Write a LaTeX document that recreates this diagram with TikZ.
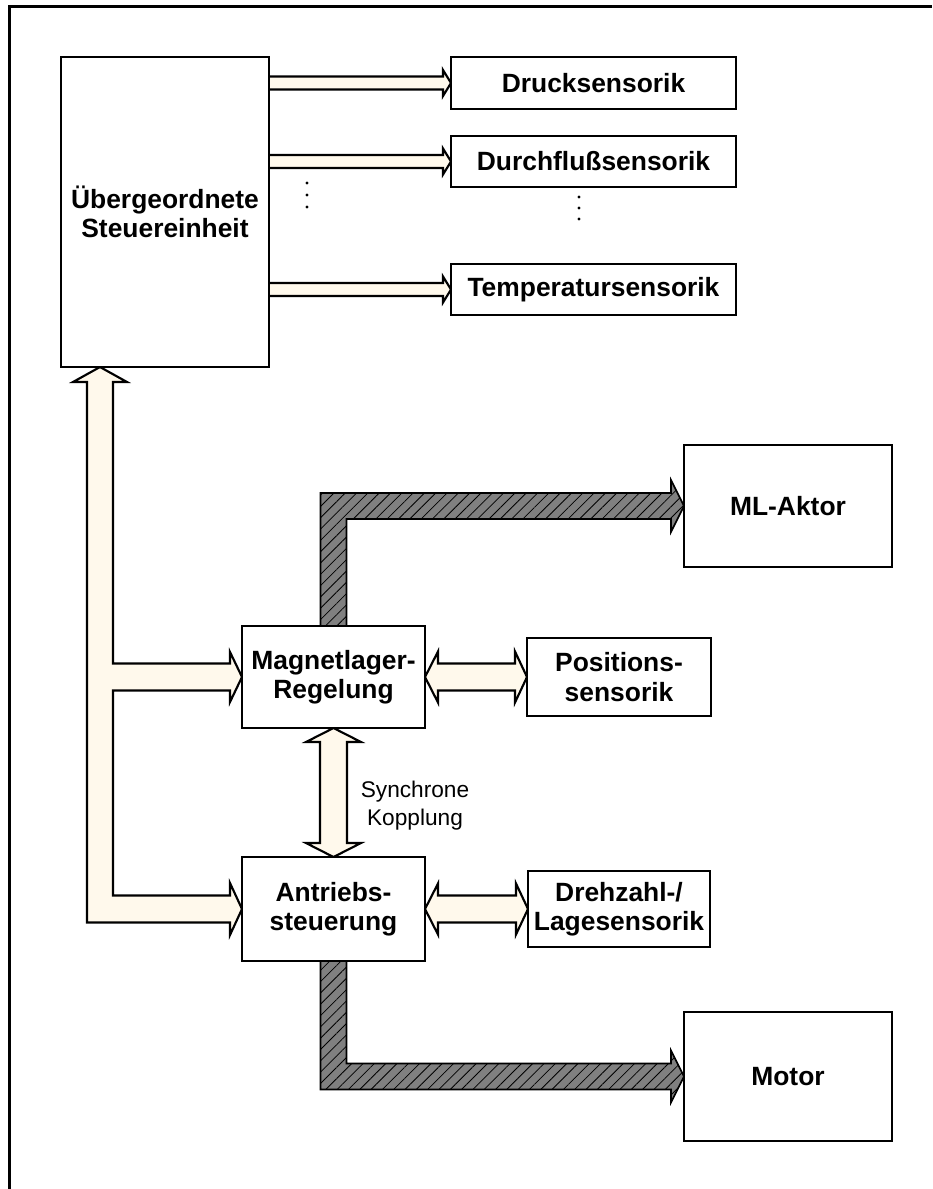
\documentclass[tikz,border=0pt]{standalone}
\usepackage{fontspec}
\setmainfont{Liberation Sans}
\usetikzlibrary{calc,patterns.meta}
\definecolor{cream}{RGB}{255,249,236}
\definecolor{hatchgray}{RGB}{128,128,128}
\pgfdeclarelayer{background}
\pgfsetlayers{background,main}
\newcommand\thinarrow[2]{%
  \draw[carrow] ($(#1.east|-#2.west)+(0,-6.5)$) -- ($(#2.west)+(-8,-6.5)$) -- ($(#2.west)+(-8,-13)$) -- (#2.west)
   -- ($(#2.west)+(-8,13)$) -- ($(#2.west)+(-8,6.5)$) -- ($(#1.east|-#2.west)+(0,6.5)$);}
\newcommand\dblharrow[2]{%
  \draw[carrow] ($(#1.east)+(13,-13.5)$) -- ($(#2.west)+(-12,-13.5)$) -- ($(#2.west)+(-12,-25.5)$) -- (#2.west)
   -- ($(#2.west)+(-12,25.5)$) -- ($(#2.west)+(-12,13.5)$) -- ($(#1.east)+(13,13.5)$) -- ($(#1.east)+(13,25.5)$)
   -- (#1.east) -- ($(#1.east)+(13,-25.5)$) -- cycle;}
\begin{document}
\begin{tikzpicture}[x=0.75pt,y=-0.75pt,
  box/.style={draw=black, line width=2pt, fill=white, inner sep=0pt, outer sep=0pt, align=center,
              font=\fontsize{19.8}{22}\selectfont\bfseries},
  carrow/.style={draw=black, line width=1.6pt, fill=cream, line join=miter},
  hatcharrow/.style={draw=black, line width=1.2pt, fill=hatchgray,
              postaction={pattern={Lines[angle=45,distance=6pt,line width=0.6pt]}, pattern color=black}},
  lbl/.style={align=center, inner sep=0pt, font=\fontsize{17}{21}\selectfont},
  dot/.style={fill=black}
]
\useasboundingbox (0,0) rectangle (932,1189);
% frame
\draw[line width=2.2pt] (9.5,1189) -- (9.5,6.5) -- (932,6.5);

% boxes
\node[box, minimum width=156pt, minimum height=232.5pt] (ueber) at (165,212) {Übergeordnete\\Steuereinheit};
\node[box, minimum width=213.75pt, minimum height=39pt] (druck) at (593.5,83) {Drucksensorik};
\node[box, minimum width=213.75pt, minimum height=38.25pt] (durch) at (593.5,161.5) {Durchflußsensorik};
\node[box, minimum width=213.75pt, minimum height=38.25pt] (temp) at (593.5,289.5) {Temperatursensorik};
\node[box, minimum width=137.25pt, minimum height=76.5pt] (mag) at (333.5,677) {Magnetlager-\\Regelung};
\node[box, minimum width=138pt, minimum height=58.5pt] (pos) at (619,677) {Positions-\\sensorik};
\node[box, minimum width=137.25pt, minimum height=78pt] (antr) at (333.5,909) {Antriebs-\\steuerung};
\node[box, minimum width=136.5pt, minimum height=57pt] (dreh) at (619,909) {Drehzahl-/\\Lagesensorik};
\node[box, minimum width=156pt, minimum height=91.5pt] (ml) at (788,506) {ML-Aktor};
\node[box, minimum width=156pt, minimum height=96.75pt] (motor) at (788,1076.5) {Motor};
\node[lbl] (syn) at (415,806) {Synchrone\\Kopplung};

% dots
\foreach \yy [count=\i] in {183,195,207} \fill[dot] (307,\yy) circle (1.6) coordinate (dl\i);
\foreach \yy [count=\i] in {197,208,219} \fill[dot] (579,\yy) circle (1.6) coordinate (dr\i);

\begin{pgfonlayer}{background}
% thin sensor arrows
\thinarrow{ueber}{druck}
\thinarrow{ueber}{durch}
\thinarrow{ueber}{temp}

% bus (T-shape) from Steuereinheit to Magnetlager and Antrieb
\coordinate (busTop) at ($(ueber.south)+(-65,0)$);
\draw[carrow] (busTop) -- ($(busTop)+(27,15)$) -- ($(busTop)+(13,15)$)
  -- ($(busTop|-mag.west)+(13,-13.5)$) -- ($(mag.west)+(-12,-13.5)$) -- ($(mag.west)+(-12,-25)$) -- (mag.west)
  -- ($(mag.west)+(-12,25)$) -- ($(mag.west)+(-12,13.5)$) -- ($(busTop|-mag.west)+(13,13.5)$)
  -- ($(busTop|-antr.west)+(13,-13.5)$) -- ($(antr.west)+(-12,-13.5)$) -- ($(antr.west)+(-12,-26)$) -- (antr.west)
  -- ($(antr.west)+(-12,26)$) -- ($(antr.west)+(-12,13.5)$) -- ($(busTop|-antr.west)+(-13,13.5)$)
  -- ($(busTop)+(-13,15)$) -- ($(busTop)+(-27,15)$) -- cycle;

% double arrows
\dblharrow{mag}{pos}
\dblharrow{antr}{dreh}
\draw[carrow] ($(mag.south)+(-13.5,14)$) -- ($(antr.north)+(-13.5,-14)$) -- ($(antr.north)+(-27.5,-14)$) -- (antr.north)
  -- ($(antr.north)+(27.5,-14)$) -- ($(antr.north)+(13.5,-14)$) -- ($(mag.south)+(13.5,14)$) -- ($(mag.south)+(27.5,14)$)
  -- (mag.south) -- ($(mag.south)+(-27.5,14)$) -- cycle;

% hatched power arrows
\draw[hatcharrow] ($(mag.north)+(-13,0)$) -- ($(mag.north|-ml.west)+(-13,-13)$) -- ($(ml.west)+(-13,-13)$)
  -- ($(ml.west)+(-13,-26)$) -- (ml.west) -- ($(ml.west)+(-13,26)$) -- ($(ml.west)+(-13,13)$)
  -- ($(mag.north|-ml.west)+(13,13)$) -- ($(mag.north)+(13,0)$) -- cycle;
\draw[hatcharrow] ($(antr.south)+(-13,0)$) -- ($(antr.south|-motor.west)+(-13,13)$) -- ($(motor.west)+(-13,13)$)
  -- ($(motor.west)+(-13,26)$) -- (motor.west) -- ($(motor.west)+(-13,-26)$) -- ($(motor.west)+(-13,-13)$)
  -- ($(antr.south|-motor.west)+(13,-13)$) -- ($(antr.south)+(13,0)$) -- cycle;
\end{pgfonlayer}
\end{tikzpicture}
\end{document}
